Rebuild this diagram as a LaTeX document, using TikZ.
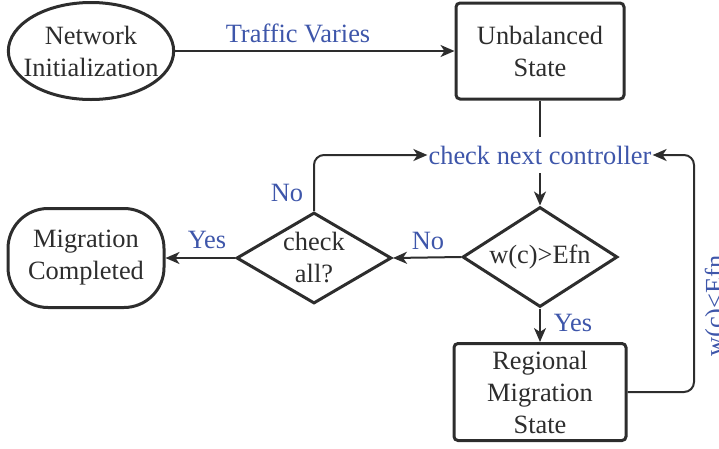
\documentclass[tikz,border=0pt]{standalone}
\usepackage{fontspec}
\setmainfont{Liberation Serif}
\usetikzlibrary{shapes.geometric,arrows.meta}
\definecolor{lblue}{RGB}{62,86,170}
\definecolor{ink}{RGB}{45,45,45}
\begin{document}
\begin{tikzpicture}[x=1pt,y=-1pt,
  every node/.style={font=\fontsize{26.4}{32}\selectfont, text=ink, align=center, inner sep=0pt},
  boxnode/.style={draw=ink, line width=3pt, rounded corners=4pt},
  ellnode/.style={draw=ink, line width=3pt, ellipse, inner xsep=-9pt, inner ysep=0pt},
  dianode/.style={draw=ink, line width=3pt, diamond, aspect=1.6},
  lbl/.style={text=lblue},
  conn/.style={draw=ink, line width=2pt},
  arr/.style={conn, -{Stealth[length=14pt,width=12pt,inset=4pt]}}
]
\useasboundingbox (0,0) rectangle (719,448);
\node[ellnode, minimum width=164pt, minimum height=97pt] (ni) at (91,51) {Network\\Initialization};
\node[boxnode, minimum width=168pt, minimum height=96pt] (ub) at (540,51) {Unbalanced\\State};
\node[lbl, minimum height=36pt, inner xsep=1pt] (cnc) at (540,155) {check next controller};
\node[dianode, minimum width=155pt, minimum height=100pt] (wc) at (540,257) {w(c)>Efn};
\node[boxnode, minimum width=172pt, minimum height=97pt] (rm) at (540,392) {Regional\\Migration\\State};
\node[dianode, minimum width=155pt, minimum height=91pt] (ca) at (314,258) {check\\all?};
\node[draw=ink, line width=3pt, rounded corners=40pt, minimum width=156pt, minimum height=99pt] (mc) at (86,258) {Migration\\Completed};
\coordinate (rc) at (694,155);

\draw[arr] (ni.east) -- (ub.west);
\draw[conn] (ub.south) -- (cnc.north);
\draw[arr] (cnc.south) -- (wc.north);
\draw[arr] (wc.south) -- (rm.north);
\draw[arr] (wc.west) -- (ca.east);
\draw[arr] (ca.west) -- (mc.east);
\draw[arr, rounded corners=10pt] (ca.north) |- (cnc.west);
\draw[arr, rounded corners=10pt] (rm.east) -| (rc) -- (cnc.east);

\node[lbl] (tv) at (298,33) {Traffic Varies};
\node[lbl] (y1) at (573,323) {Yes};
\node[lbl] (n1) at (428,241) {No};
\node[lbl] (n2) at (287,193) {No};
\node[lbl] (y2) at (207,240) {Yes};
\node[lbl, rotate=90] (le) at (717,306) {w(c)<Efn};
\end{tikzpicture}
\end{document}
